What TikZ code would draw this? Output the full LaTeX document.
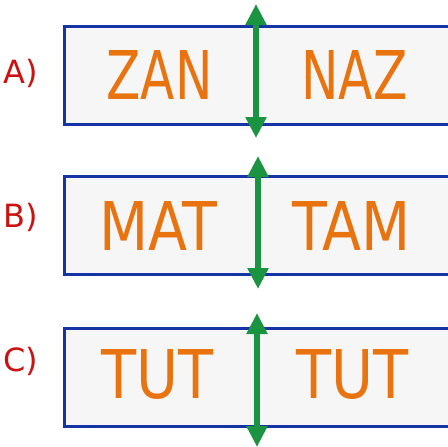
\documentclass[tikz,border=0pt]{standalone}
\usepackage{fontspec}
\setmainfont{DejaVu Sans}
\newfontfamily\wordfont{DejaVu Sans Condensed}
\usepackage{graphicx}
\usetikzlibrary{arrows.meta}
\definecolor{boxblue}{HTML}{1634A6}
\definecolor{boxfill}{HTML}{F6F6F6}
\definecolor{wordorange}{HTML}{E8730F}
\definecolor{arrgreen}{HTML}{1B9442}
\definecolor{labred}{HTML}{CC1111}
\newcommand{\fitword}[2]{\resizebox{#1}{49pt}{\wordfont #2}}
\begin{document}
\begin{tikzpicture}[x=1pt,y=-1pt,
  wordbox/.style={draw=boxblue, line width=3.5pt, fill=boxfill, rectangle, inner sep=0pt, anchor=north west, minimum width=420pt, minimum height=98pt},
  word/.style={text=wordorange, inner sep=0pt, anchor=center},
  rowlabel/.style={text=labred, inner sep=0pt, anchor=center, font=\fontsize{32}{32}\selectfont},
  mirror/.style={draw=arrgreen, line width=6pt, {Triangle[width=20pt,length=21pt]}-{Triangle[width=20pt,length=21pt]}}]
\useasboundingbox (0,0) rectangle (448,447);
% row A
\node[wordbox] (boxA) at (62.5,24.5) {};
\node[word] (wA1) at (159.5,74.5) {\fitword{106pt}{ZAN}};
\node[word] (wA2) at (354.5,74.5) {\fitword{106pt}{NAZ}};
\node[rowlabel] (lA) at (21,73) {A)};
\coordinate (aAt) at (256,4);
\coordinate (aAb) at (256,138);
\draw[mirror] (aAt) -- (aAb);
% row B
\node[wordbox] (boxB) at (62.5,174.5) {};
\node[word] (wB1) at (158.5,225.5) {\fitword{118pt}{MAT}};
\node[word] (wB2) at (351.5,225.5) {\fitword{118pt}{TAM}};
\node[rowlabel] (lB) at (21,217) {B)};
\coordinate (aBt) at (258,156);
\coordinate (aBb) at (258,289);
\draw[mirror] (aBt) -- (aBb);
% row C
\node[wordbox] (boxC) at (62.5,326.5) {};
\node[word] (wC1) at (157.5,374) {\fitword{112pt}{TUT}};
\node[word] (wC2) at (352.5,374) {\fitword{112pt}{TUT}};
\node[rowlabel] (lC) at (21,361) {C)};
\coordinate (aCt) at (257,313);
\coordinate (aCb) at (257,447);
\draw[mirror] (aCt) -- (aCb);
\end{tikzpicture}
\end{document}
